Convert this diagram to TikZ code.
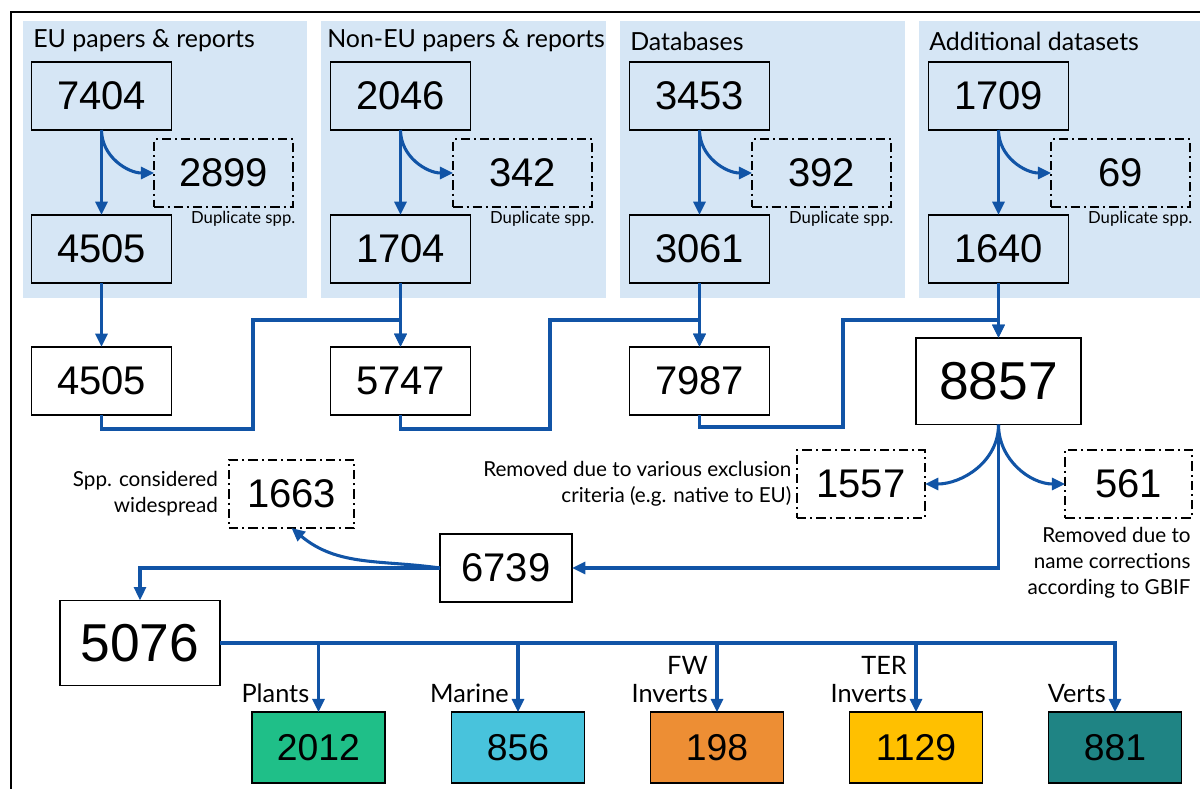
\documentclass[tikz,border=0pt]{standalone}
\usepackage{fontspec}
\setmainfont{Lato}
\newfontfamily\numfont{Liberation Sans}
\usetikzlibrary{shapes,arrows,arrows.meta,calc,positioning}
\definecolor{panelblue}{RGB}{214,230,245}
\definecolor{flowblue}{RGB}{17,84,166}
\definecolor{plantgreen}{RGB}{31,191,136}
\definecolor{marinecyan}{RGB}{72,195,220}
\definecolor{fworange}{RGB}{237,142,52}
\definecolor{teryellow}{RGB}{255,192,0}
\definecolor{vertteal}{RGB}{31,132,132}
\begin{document}
\begin{tikzpicture}[x=0.75pt,y=-0.75pt,
        block/.style={draw,rectangle,line width=1.2pt,minimum width=105pt,minimum height=51pt,inner sep=0pt,outer sep=0pt,font=\numfont\fontsize{30}{30}\selectfont},
        big/.style={block,minimum width=124pt,minimum height=65pt,font=\numfont\fontsize{40}{40}\selectfont},
        removed/.style={block,dash pattern=on 7pt off 3pt on 1.5pt off 3pt,minimum width=104pt},
        taxon/.style={block,minimum width=100pt,minimum height=53pt,font=\numfont\fontsize{28}{28}\selectfont},
        title/.style={anchor=west,inner sep=0pt,font=\fontsize{18.7}{19}\selectfont},
        dup/.style={inner sep=0pt,font=\fontsize{12.5}{13}\selectfont},
        note/.style={align=right,inner sep=0pt,font=\fontsize{15.5}{19.5}\selectfont},
        tag/.style={align=right,inner sep=0pt,font=\fontsize{19}{21}\selectfont},
        flow/.style={draw=flowblue,line width=2.3pt,-{Triangle[length=10pt,width=9pt]}}]

        \useasboundingbox (0,0) rectangle (1200,789);

        % source panels
        \fill[panelblue] (23,21) rectangle (307,298);
        \fill[panelblue] (321,21) rectangle (606,298);
        \fill[panelblue] (620,21) rectangle (905,298);
        \fill[panelblue] (919,21) rectangle (1200,298);
        \draw[line width=2pt] (11,789) -- (11,12) -- (1200,12);

        \node[title] (h1) at (33,41) {EU papers \& reports};
        \node[title] (h2) at (327,41) {Non-EU papers \& reports};
        \node[title] (h3) at (630,41) {Databases};
        \node[title] (h4) at (929,41) {Additional datasets};

        \node[block] (a1) at (101.5,96) {7404};
        \node[block] (a2) [right=119.25pt of a1] {2046};
        \node[block] (a3) [right=119.25pt of a2] {3453};
        \node[block] (a4) [right=119.25pt of a3] {1709};

        \node[removed] (d1) at ($(a1)+(122,77)$) {2899};
        \node[removed] (d2) at ($(a2)+(122,77)$) {342};
        \node[removed] (d3) at ($(a3)+(122,77)$) {392};
        \node[removed] (d4) at ($(a4)+(122,77)$) {69};

        \node[dup] [below left=3pt and -2pt of d1.south east] {Duplicate spp.};
        \node[dup] [below left=3pt and -2pt of d2.south east] {Duplicate spp.};
        \node[dup] [below left=3pt and -2pt of d3.south east] {Duplicate spp.};
        \node[dup] [below left=3pt and -2pt of d4.south east] {Duplicate spp.};

        \node[block] (b1) [below=63.75pt of a1] {4505};
        \node[block] (b2) [below=63.75pt of a2] {1704};
        \node[block] (b3) [below=63.75pt of a3] {3061};
        \node[block] (b4) [below=63.75pt of a4] {1640};

        % merging
        \node[block] (r1) [below=48pt of b1] {4505};
        \node[block] (r2) [below=48pt of b2] {5747};
        \node[block] (r3) [below=48pt of b3] {7987};
        \node[big] (r4) [below=41.25pt of b4] {8857};

        \node[removed,minimum width=96pt] (x1) at (861,484) {1557};
        \node[removed,minimum width=95pt] (x2) at (1128.5,484) {561};
        \node[note] [left=4pt of x1] {Removed due to various exclusion\\criteria (e.g. native to EU)};
        \node[note,anchor=north east] at ($(x2.south east)+(-1,9)$) {Removed due to\\name corrections\\according to GBIF};

        \node[block,minimum width=99pt] (k) at (506,568) {6739};
        \node[removed,minimum width=94pt] (w) at (291.5,494) {1663};
        \node[note] [left=8pt of w] {Spp. considered\\widespread};

        \node[big,minimum width=120pt,minimum height=64pt] (t) at (140,643) {5076};

        % taxonomic groups
        \node[taxon,fill=plantgreen] (p1) at (318.5,747.5) {2012};
        \node[taxon,fill=marinecyan] (p2) at (518,747.5) {856};
        \node[taxon,fill=fworange] (p3) at (717,747.5) {198};
        \node[taxon,fill=teryellow] (p4) at (916,747.5) {1129};
        \node[taxon,fill=vertteal] (p5) at (1115,747.5) {881};

        \node[tag,anchor=south east] at ($(p1.north)+(-9,-9)$) {Plants};
        \node[tag,anchor=south east] at ($(p2.north)+(-9,-9)$) {Marine};
        \node[tag,anchor=south east] at ($(p3.north)+(-9,-9)$) {FW\\Inverts};
        \node[tag,anchor=south east] at ($(p4.north)+(-9,-9)$) {TER\\Inverts};
        \node[tag,anchor=south east] at ($(p5.north)+(-9,-9)$) {Verts};

        \draw[flow] (a1.south) -- (b1.north);
        \draw[flow] (a2.south) -- (b2.north);
        \draw[flow] (a3.south) -- (b3.north);
        \draw[flow] (a4.south) -- (b4.north);
        \draw[flow] (a1.south) to[out=-90,in=180] (d1.west);
        \draw[flow] (a2.south) to[out=-90,in=180] (d2.west);
        \draw[flow] (a3.south) to[out=-90,in=180] (d3.west);
        \draw[flow] (a4.south) to[out=-90,in=180] (d4.west);

        \draw[flow] (b1.south) -- (r1.north);
        \draw[flow] (b2.south) -- (r2.north);
        \draw[flow] (b3.south) -- (r3.north);
        \draw[flow] (b4.south) -- (r4.north);
        \draw[flow] (r1.south) -- ++(0,14) -| (253,320) -| (r2.north);
        \draw[flow] (r2.south) -- ++(0,14) -| (550,320) -| (r3.north);
        \draw[flow] (r3.south) -- ++(0,12) -| (843,320) -| (r4.north);

        \draw[flow] (r4.south) to[out=-90,in=0] (x1.east);
        \draw[flow] (r4.south) to[out=-90,in=180] (x2.west);
        \draw[flow] (r4.south) |- (k.east);
        \draw[flow] (k.west) to[out=172,in=-40] (w.south);
        \draw[flow] (k.west) -| (t.north);

        \draw[flow] (t.east) -| (p1.north);
        \draw[flow] (t.east) -| (p2.north);
        \draw[flow] (t.east) -| (p3.north);
        \draw[flow] (t.east) -| (p4.north);
        \draw[flow] (t.east) -| (p5.north);
\end{tikzpicture}
\end{document}
